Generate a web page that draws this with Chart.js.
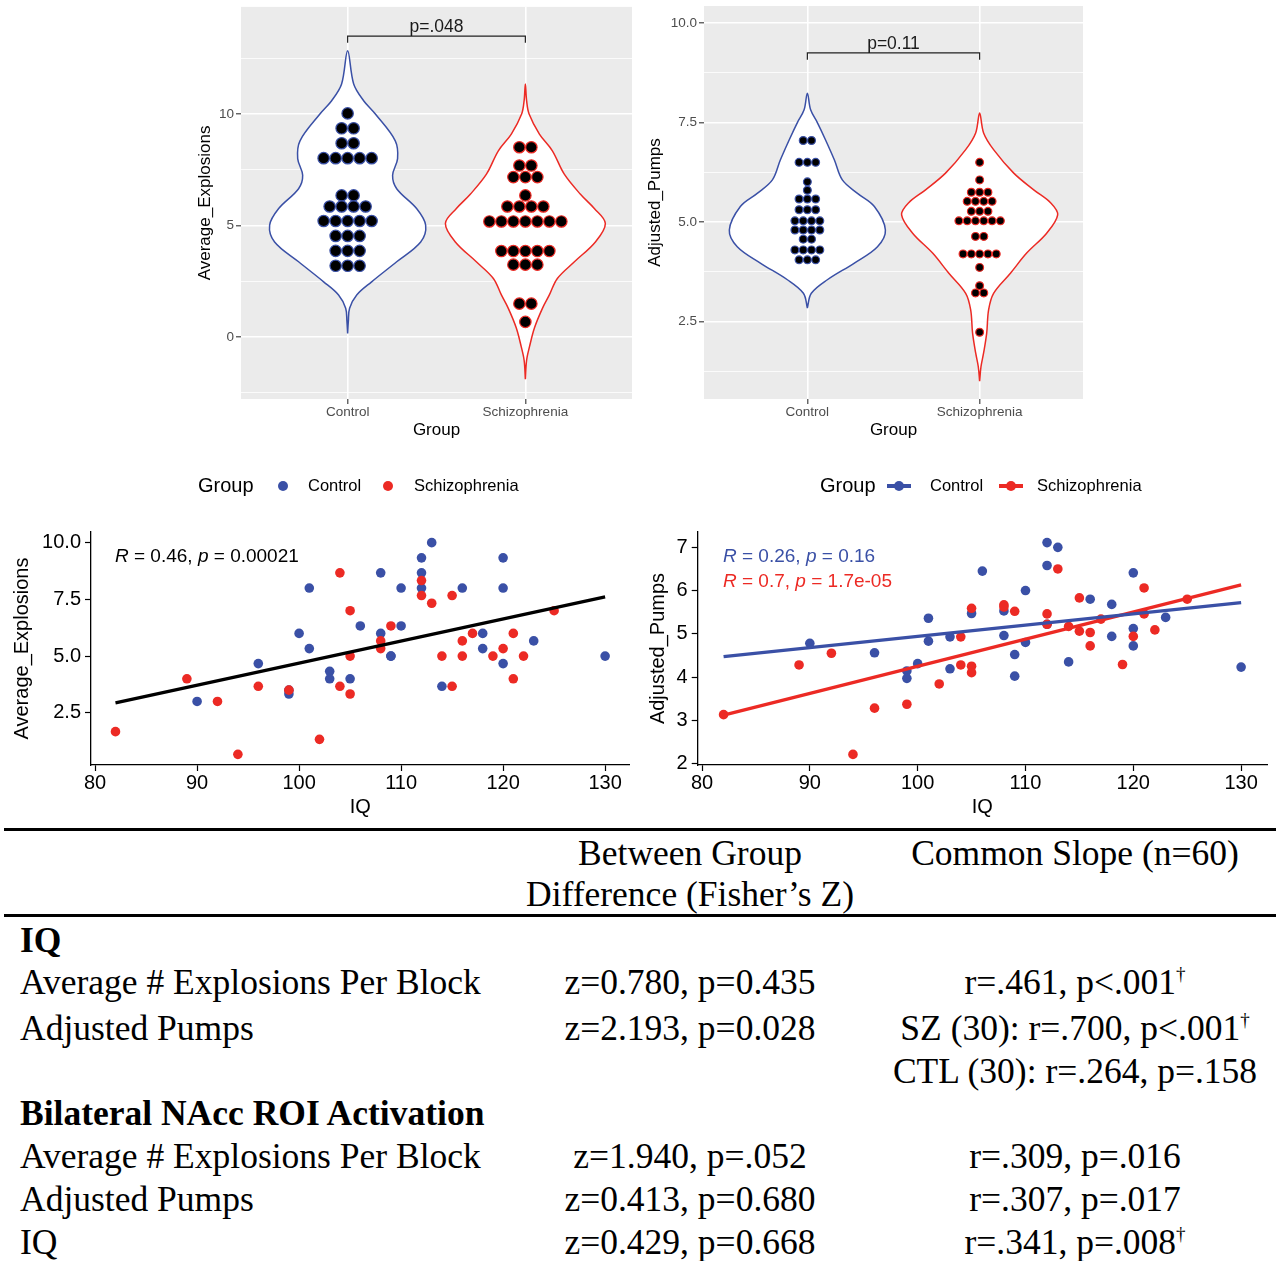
<!DOCTYPE html>
<html><head><meta charset="utf-8">
<script src="https://cdn.jsdelivr.net/npm/chart.js@4.4.1/dist/chart.umd.min.js"></script>
<style>
html,body{margin:0;padding:0;background:#fff;}
#wrap{position:relative;width:1277px;height:1261px;overflow:hidden;background:#fff;}
canvas{position:absolute;}
.t{position:absolute;font-family:"Liberation Serif","Times New Roman",serif;font-size:35.5px;line-height:40px;color:#000;white-space:nowrap;}
.c1{left:20px;}
.c2{left:490px;width:400px;text-align:center;}
.c3{left:875px;width:400px;text-align:center;}
.b{font-weight:bold;}
.rule{position:absolute;left:4px;width:1272px;height:3px;background:#000;}
.dag{font-size:19px;position:relative;top:-14px;}
</style>
</head><body>
<div id="wrap">
<canvas id="c1" width="450" height="445" style="left:190px;top:0px"></canvas>
<canvas id="c2" width="450" height="445" style="left:640px;top:0px"></canvas>
<canvas id="c3" width="640" height="350" style="left:0px;top:470px"></canvas>
<canvas id="c4" width="637" height="350" style="left:640px;top:470px"></canvas>

<div class="rule" style="top:828px"></div>
<div class="t c2" style="top:833px">Between Group</div>
<div class="t c3" style="top:833px">Common Slope (n=60)</div>
<div class="t c2" style="top:874px">Difference (Fisher’s Z)</div>
<div class="rule" style="top:914px"></div>

<div class="t c1 b" style="top:920px">IQ</div>
<div class="t c1" style="top:962px">Average # Explosions Per Block</div>
<div class="t c2" style="top:962px">z=0.780, p=0.435</div>
<div class="t c3" style="top:962px">r=.461, p&lt;.001<span class="dag">†</span></div>
<div class="t c1" style="top:1008px">Adjusted Pumps</div>
<div class="t c2" style="top:1008px">z=2.193, p=0.028</div>
<div class="t c3" style="top:1008px">SZ (30): r=.700, p&lt;.001<span class="dag">†</span></div>
<div class="t c3" style="top:1051px">CTL (30): r=.264, p=.158</div>

<div class="t c1 b" style="top:1093px">Bilateral NAcc ROI Activation</div>
<div class="t c1" style="top:1136px">Average # Explosions Per Block</div>
<div class="t c2" style="top:1136px">z=1.940, p=.052</div>
<div class="t c3" style="top:1136px">r=.309, p=.016</div>
<div class="t c1" style="top:1179px">Adjusted Pumps</div>
<div class="t c2" style="top:1179px">z=0.413, p=0.680</div>
<div class="t c3" style="top:1179px">r=.307, p=.017</div>
<div class="t c1" style="top:1222px">IQ</div>
<div class="t c2" style="top:1222px">z=0.429, p=0.668</div>
<div class="t c3" style="top:1222px">r=.341, p=.008<span class="dag">†</span></div>
</div>

<script>
// ---------------- DATA ----------------
const groups = ['Control', 'Schizophrenia'];

// Dot-plot bins (value, count) — Average_Explosions
const ctrlExplBins   = [10.03, 9.36, 8.69, 8.02, 6.35, 5.85, 5.2, 4.53, 3.86, 3.19];
const ctrlExplCounts = [1, 2, 2, 5, 2, 4, 5, 3, 3, 3];
const szExplBins     = [8.51, 7.69, 7.17, 6.35, 5.85, 5.18, 3.85, 3.24, 1.49, 0.67];
const szExplCounts   = [2, 2, 3, 1, 4, 7, 5, 3, 2, 1];

// Dot-plot bins — Adjusted_Pumps
const ctrlPumpBins   = [7.05, 6.5, 6.01, 5.8, 5.58, 5.31, 5.03, 4.8, 4.57, 4.3, 4.05];
const ctrlPumpCounts = [2, 3, 1, 1, 3, 3, 4, 4, 2, 4, 3];
const szPumpBins     = [6.5, 6.06, 5.75, 5.52, 5.27, 5.03, 4.64, 4.2, 3.86, 3.4, 3.22, 2.23];
const szPumpCounts   = [1, 1, 3, 4, 3, 6, 2, 5, 1, 1, 2, 1];

// Violin outlines: value and half-width (density, in group-axis units)
const ctrlExplViolinY = [0.15, 0.7, 1.28, 1.88, 2.47, 3.37, 4.26, 5.01, 5.76, 6.65, 7.25, 8.0, 8.8, 10.0, 10.6, 11.35, 12.84];
const ctrlExplViolinW = [0, 0.004, 0.011, 0.051, 0.135, 0.276, 0.411, 0.439, 0.388, 0.276, 0.253, 0.281, 0.268, 0.156, 0.09, 0.034, 0];
const szExplViolinY   = [-1.9, -1.05, -0.45, 0.4, 1.28, 1.88, 2.62, 3.37, 4.26, 5.09, 5.76, 6.4, 7.3, 8.35, 9.1, 10.0, 10.6, 11.35];
const szExplViolinW   = [0, 0.007, 0.023, 0.051, 0.096, 0.135, 0.18, 0.276, 0.394, 0.45, 0.388, 0.31, 0.219, 0.152, 0.079, 0.021, 0.007, 0];
const ctrlPumpViolinY = [2.84, 3.21, 3.55, 3.97, 4.38, 4.8, 5.39, 5.72, 6.06, 6.56, 7.07, 7.5, 7.82, 8.24];
const ctrlPumpViolinW = [0, 0.023, 0.116, 0.273, 0.407, 0.453, 0.389, 0.291, 0.203, 0.157, 0.105, 0.058, 0.019, 0];
const szPumpViolinY   = [1.0, 1.37, 1.71, 2.21, 2.79, 3.21, 3.72, 4.22, 4.72, 5.18, 5.48, 5.81, 6.23, 6.82, 7.24, 7.74];
const szPumpViolinW   = [0, 0.008, 0.023, 0.041, 0.052, 0.081, 0.18, 0.273, 0.389, 0.453, 0.413, 0.314, 0.198, 0.081, 0.023, 0];

// Significance brackets (leg bottom, bar) and labels
const explBracketY = [13.2, 13.5];
const explPText = 'p=.048', explPY = 13.91;
const pumpBracketY = [9.08, 9.25];
const pumpPText = 'p=0.11', pumpPY = 9.48;

// Axis ticks (violin panels)
const explMajor = [0, 5, 10], explMajorLabels = ['0', '5', '10'], explMinor = [-2.5, 2.5, 7.5, 12.5];
const pumpMajor = [2.5, 5, 7.5, 10], pumpMajorLabels = ['2.5', '5.0', '7.5', '10.0'], pumpMinor = [1.25, 3.75, 6.25, 8.75];

// Scatter: IQ vs Average_Explosions
const ctrlExplIQ  = [90, 96, 99, 99, 100, 101, 101, 103, 103, 105, 106, 108, 108, 109, 109, 110, 110, 112, 112, 112, 113, 114, 116, 118, 118, 120, 120, 120, 123, 130];
const ctrlExplVal = [3.0, 4.67, 3.33, 3.5, 6.0, 8.0, 5.33, 4.33, 4.0, 4.0, 6.33, 8.67, 6.0, 5.0, 5.0, 8.0, 6.33, 9.33, 8.67, 8.0, 10.0, 3.67, 8.0, 6.0, 5.33, 9.33, 8.0, 4.67, 5.67, 5.0];
const szExplIQ    = [82, 89, 92, 94, 96, 99, 102, 104, 104, 105, 105, 105, 108, 108, 109, 112, 112, 113, 114, 115, 115, 116, 116, 117, 119, 120, 121, 121, 122, 125];
const szExplVal   = [1.67, 4.0, 3.0, 0.67, 3.67, 3.5, 1.33, 8.67, 3.67, 7.0, 5.0, 3.33, 5.67, 5.33, 6.33, 8.33, 7.67, 7.33, 5.0, 7.67, 3.67, 5.67, 5.0, 6.0, 5.0, 5.33, 6.0, 4.0, 5.0, 7.0];
const explFitX = [82, 130], explFitY = [2.94, 7.61];
const explStat = {r: '0.46', p: '0.00021'};

// Scatter: IQ vs Adjusted_Pumps
const ctrlPumpIQ  = [90, 96, 99, 99, 100, 101, 101, 103, 103, 105, 106, 108, 108, 109, 109, 110, 110, 112, 112, 112, 113, 114, 116, 118, 118, 120, 120, 120, 123, 130];
const ctrlPumpVal = [4.78, 4.56, 4.14, 3.97, 4.31, 5.36, 4.83, 4.93, 4.19, 5.47, 6.45, 5.53, 4.96, 4.52, 4.02, 6.0, 4.8, 7.11, 6.58, 5.22, 7.0, 4.35, 5.8, 5.68, 4.94, 6.41, 5.12, 4.72, 5.38, 4.23];
const szPumpIQ    = [82, 89, 92, 94, 96, 99, 102, 104, 104, 105, 105, 105, 108, 108, 109, 112, 112, 113, 114, 115, 115, 116, 116, 117, 119, 120, 121, 121, 122, 125];
const szPumpVal   = [3.13, 4.28, 4.55, 2.21, 3.28, 3.37, 3.84, 4.93, 4.28, 5.59, 4.25, 4.1, 5.67, 5.62, 5.52, 5.46, 5.22, 6.5, 5.17, 5.83, 5.06, 5.03, 4.72, 5.34, 4.29, 4.94, 6.06, 5.46, 5.09, 5.8];
const pumpFitX = [82, 130], ctrlPumpFitY = [4.47, 5.72], szPumpFitY = [3.12, 6.13];
const ctrlPumpStat = {r: '0.26', p: '0.16'};
const szPumpStat = {r: '0.7', p: '1.7e-05'};

const iqTicks = [80, 90, 100, 110, 120, 130];
const explScatterTicks = [2.5, 5, 7.5, 10];
const pumpScatterTicks = [2, 3, 4, 5, 6, 7];

// ---------------- STYLE / HELPERS ----------------
const BLUE = '#3A50A6', RED = '#EC2A24';
const SANS = '"Liberation Sans", Arial, Helvetica, sans-serif';
Chart.defaults.font.family = SANS;

function dotPoints(center, bins, counts, spacing) {
  const pts = [];
  bins.forEach((v, i) => {
    const n = counts[i];
    for (let k = 0; k < n; k++) pts.push({x: center + (k - (n - 1) / 2) * spacing, y: v});
  });
  return pts;
}
function violinPoints(center, ys, ws) {
  const right = ys.map((y, i) => ({x: center + ws[i], y}));
  const left = ys.map((y, i) => ({x: center - ws[i], y})).reverse();
  return right.concat(left.slice(1));
}
function zip(xs, ys) { return xs.map((x, i) => ({x, y: ys[i]})); }
function noMargins(s) { s.paddingTop = 0; s.paddingBottom = 0; s.paddingLeft = 0; s.paddingRight = 0; }

const panelBg = {
  id: 'panelBg',
  beforeDraw(chart, args, o) {
    if (!o || !o.color) return;
    const {ctx, chartArea: a} = chart;
    ctx.save(); ctx.fillStyle = o.color;
    ctx.fillRect(a.left, a.top, a.right - a.left, a.bottom - a.top);
    ctx.restore();
  }
};
const pLabel = {
  id: 'pLabel',
  afterDatasetsDraw(chart, args, o) {
    if (!o || !o.text) return;
    const {ctx} = chart;
    const x = chart.scales.x.getPixelForValue(o.x), y = chart.scales.y.getPixelForValue(o.y);
    ctx.save(); ctx.font = '17.5px ' + SANS; ctx.fillStyle = '#1a1a1a';
    ctx.textAlign = 'center'; ctx.textBaseline = 'middle';
    ctx.fillText(o.text, x, y); ctx.restore();
  }
};
const ggLegend = {
  id: 'ggLegend',
  afterDraw(chart, args, o) {
    if (!o || !o.items) return;
    const ctx = chart.ctx;
    ctx.save(); ctx.textBaseline = 'middle'; ctx.textAlign = 'left';
    ctx.fillStyle = '#000'; ctx.font = '20px ' + SANS;
    ctx.fillText(o.title, o.titleX, o.y);
    o.items.forEach(it => {
      if (o.keyType === 'line') {
        ctx.strokeStyle = it.color; ctx.lineWidth = 4;
        ctx.beginPath(); ctx.moveTo(it.keyX - 12, o.y); ctx.lineTo(it.keyX + 12, o.y); ctx.stroke();
      }
      ctx.fillStyle = it.color; ctx.beginPath(); ctx.arc(it.keyX, o.y, 5, 0, Math.PI * 2); ctx.fill();
      ctx.fillStyle = '#000'; ctx.font = '16.5px ' + SANS;
      ctx.fillText(it.text, it.textX, o.y);
    });
    ctx.restore();
  }
};
const statText = {
  id: 'statText',
  afterDraw(chart, args, o) {
    if (!o || !o.lines) return;
    const ctx = chart.ctx;
    ctx.save(); ctx.textBaseline = 'middle'; ctx.textAlign = 'left';
    o.lines.forEach(line => {
      let x = line.x;
      const runs = [{t: 'R', i: true}, {t: ' = ' + line.stat.r + ', '}, {t: 'p', i: true}, {t: ' = ' + line.stat.p}];
      runs.forEach(r => {
        ctx.font = (r.i ? 'italic ' : '') + o.size + 'px ' + SANS;
        ctx.fillStyle = line.color;
        ctx.fillText(r.t, x, line.y);
        x += ctx.measureText(r.t).width;
      });
    });
    ctx.restore();
  }
};

// ---------------- VIOLIN / DOT PANELS ----------------
function violinChart(id, c) {
  const majorSet = c.major;
  return new Chart(document.getElementById(id), {
    type: 'scatter',
    data: {datasets: [
      {data: violinPoints(1, c.cv[0], c.cv[1]), showLine: true, fill: 'shape', backgroundColor: '#fff', borderColor: BLUE, borderWidth: 1.5, pointRadius: 0, tension: 0.35, order: 5},
      {data: violinPoints(2, c.sv[0], c.sv[1]), showLine: true, fill: 'shape', backgroundColor: '#fff', borderColor: RED, borderWidth: 1.5, pointRadius: 0, tension: 0.35, order: 5},
      {data: dotPoints(1, c.cd[0], c.cd[1], c.spacing), pointRadius: c.r, pointBackgroundColor: '#000', pointBorderColor: BLUE, pointBorderWidth: 1.2, order: 3},
      {data: dotPoints(2, c.sd[0], c.sd[1], c.spacing), pointRadius: c.r, pointBackgroundColor: '#000', pointBorderColor: RED, pointBorderWidth: 1.2, order: 3},
      {data: [{x: 1, y: c.br[0]}, {x: 1, y: c.br[1]}, {x: 2, y: c.br[1]}, {x: 2, y: c.br[0]}], showLine: true, borderColor: '#222', borderWidth: 1.2, pointRadius: 0, tension: 0, order: 1, clip: false}
    ]},
    options: {
      responsive: false, animation: false, events: [],
      layout: {padding: {left: 0, right: c.padR, top: 6, bottom: 0}},
      scales: {
        x: {
          type: 'linear', min: 0.4, max: 2.6,
          afterBuildTicks: s => { s.ticks = [{value: 1}, {value: 2}]; },
          afterFit: s => { s.height = 46; noMargins(s); },
          ticks: {callback: v => groups[Math.round(v) - 1], font: {size: 13.5}, color: '#4d4d4d', padding: 0, maxRotation: 0, autoSkip: false},
          grid: {color: '#fff', lineWidth: 1.6, tickColor: '#333', tickLength: 5, tickWidth: 1.1},
          border: {display: false},
          title: {display: true, text: 'Group', font: {size: 17}, color: '#000', padding: {top: 0, bottom: 4}}
        },
        y: {
          type: 'linear', min: c.ymin, max: c.ymax,
          afterBuildTicks: s => { s.ticks = c.major.concat(c.minor).sort((a, b) => a - b).map(v => ({value: v})); },
          afterFit: s => { s.width = c.yw; noMargins(s); },
          ticks: {callback: v => { const i = majorSet.indexOf(v); return i >= 0 ? c.majorLabels[i] : ''; }, font: {size: 13.5}, color: '#4d4d4d', padding: 2, autoSkip: false},
          grid: {color: '#fff', lineWidth: ctx => majorSet.includes(ctx.tick.value) ? 1.6 : 0.8,
                 tickColor: ctx => majorSet.includes(ctx.tick.value) ? '#333' : 'rgba(0,0,0,0)', tickLength: 5, tickWidth: 1.1},
          border: {display: false},
          title: {display: true, text: c.ytitle, font: {size: 17}, color: '#000', padding: {top: c.titlePad, bottom: 0}}
        }
      },
      plugins: {legend: {display: false}, tooltip: {enabled: false},
                panelBg: {color: '#EBEBEB'}, pLabel: {text: c.pText, x: 1.5, y: c.pY}}
    },
    plugins: [panelBg, pLabel]
  });
}

violinChart('c1', {
  cv: [ctrlExplViolinY, ctrlExplViolinW], sv: [szExplViolinY, szExplViolinW],
  cd: [ctrlExplBins, ctrlExplCounts], sd: [szExplBins, szExplCounts],
  spacing: 0.0675, r: 5.7, br: explBracketY, pText: explPText, pY: explPY,
  ymin: -2.79, ymax: 14.81, major: explMajor, majorLabels: explMajorLabels, minor: explMinor,
  yw: 51, padR: 8, ytitle: 'Average_Explosions', titlePad: 5
});
violinChart('c2', {
  cv: [ctrlPumpViolinY, ctrlPumpViolinW], sv: [szPumpViolinY, szPumpViolinW],
  cd: [ctrlPumpBins, ctrlPumpCounts], sd: [szPumpBins, szPumpCounts],
  spacing: 0.0482, r: 3.9, br: pumpBracketY, pText: pumpPText, pY: pumpPY,
  ymin: 0.553, ymax: 10.43, major: pumpMajor, majorLabels: pumpMajorLabels, minor: pumpMinor,
  yw: 64, padR: 7, ytitle: 'Adjusted_Pumps', titlePad: 5
});

// ---------------- SCATTER PANELS ----------------
function scatterChart(id, c) {
  const ds = [
    {data: zip(c.cx, c.cy), pointRadius: 4.8, pointBackgroundColor: BLUE, pointBorderWidth: 0, order: 4},
    {data: zip(c.sx, c.sy), pointRadius: 4.8, pointBackgroundColor: RED, pointBorderWidth: 0, order: 3}
  ];
  c.fits.forEach(f => ds.push({data: zip(f.x, f.y), showLine: true, borderColor: f.color, borderWidth: 3.3, pointRadius: 0, order: 1}));
  return new Chart(document.getElementById(id), {
    type: 'scatter',
    data: {datasets: ds},
    options: {
      responsive: false, animation: false, events: [],
      layout: {padding: {left: 0, right: c.padR, top: 62, bottom: 0}},
      scales: {
        x: {
          type: 'linear', min: 79.6, max: 132.4,
          afterBuildTicks: s => { s.ticks = iqTicks.map(v => ({value: v})); },
          afterFit: s => { s.height = 55; noMargins(s); },
          ticks: {font: {size: 20}, color: '#000', padding: 0, maxRotation: 0, autoSkip: false},
          grid: {drawOnChartArea: false, drawTicks: true, tickLength: 6, tickColor: '#000', tickWidth: 1.2},
          border: {display: true, color: '#000', width: 1.3},
          title: {display: true, text: 'IQ', font: {size: 20}, color: '#000', padding: {top: 0, bottom: 1}}
        },
        y: {
          type: 'linear', min: c.ymin, max: c.ymax,
          afterBuildTicks: s => { s.ticks = c.yticks.map(v => ({value: v})); },
          afterFit: s => { s.width = c.yw; noMargins(s); },
          ticks: {callback: v => c.fmt(v), font: {size: 20}, color: '#000', padding: 4, autoSkip: false},
          grid: {drawOnChartArea: false, drawTicks: true, tickLength: 6, tickColor: '#000', tickWidth: 1.2},
          border: {display: true, color: '#000', width: 1.3},
          title: {display: true, text: c.ytitle, font: {size: 20}, color: '#000', padding: {top: c.titlePad, bottom: 0}}
        }
      },
      plugins: {legend: {display: false}, tooltip: {enabled: false},
                ggLegend: c.legend, statText: {size: 19, lines: c.stats}}
    },
    plugins: [ggLegend, statText]
  });
}

scatterChart('c3', {
  cx: ctrlExplIQ, cy: ctrlExplVal, sx: szExplIQ, sy: szExplVal,
  fits: [{x: explFitX, y: explFitY, color: '#000'}],
  ymin: 0.2, ymax: 10.47, yticks: explScatterTicks, fmt: v => v.toFixed(1),
  yw: 91, padR: 10.4, ytitle: 'Average_Explosions', titlePad: 10,
  legend: {title: 'Group', titleX: 198, y: 16, keyType: 'point',
           items: [{text: groups[0], color: BLUE, keyX: 283, textX: 308}, {text: groups[1], color: RED, keyX: 388, textX: 414}]},
  stats: [{x: 115, y: 87, color: '#000', stat: explStat}]
});
scatterChart('c4', {
  cx: ctrlPumpIQ, cy: ctrlPumpVal, sx: szPumpIQ, sy: szPumpVal,
  fits: [{x: pumpFitX, y: ctrlPumpFitY, color: BLUE}, {x: pumpFitX, y: szPumpFitY, color: RED}],
  ymin: 1.965, ymax: 7.355, yticks: pumpScatterTicks, fmt: v => String(v),
  yw: 57.7, padR: 10, ytitle: 'Adjusted_Pumps', titlePad: 6,
  legend: {title: 'Group', titleX: 180, y: 16, keyType: 'line',
           items: [{text: groups[0], color: BLUE, keyX: 259, textX: 290}, {text: groups[1], color: RED, keyX: 371, textX: 397}]},
  stats: [{x: 83, y: 87, color: BLUE, stat: ctrlPumpStat}, {x: 83, y: 112, color: RED, stat: szPumpStat}]
});
</script>
</body></html>
